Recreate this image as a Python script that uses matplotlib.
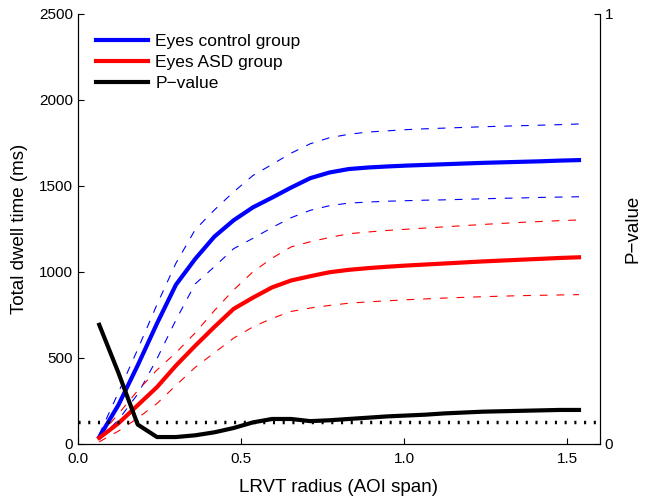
import matplotlib
matplotlib.use("Agg")
import matplotlib.pyplot as plt

plt.rcParams['font.family'] = ['Liberation Sans', 'DejaVu Sans']

radius = [0.065, 0.124, 0.183, 0.242, 0.300, 0.359, 0.418, 0.477, 0.536, 0.595,
          0.653, 0.712, 0.771, 0.830, 0.889, 0.948, 1.006, 1.065, 1.124, 1.183,
          1.242, 1.300, 1.359, 1.418, 1.477, 1.536]

control_mean = [40, 227, 457, 700, 925, 1075, 1205, 1300, 1375, 1432,
                1490, 1545, 1578, 1598, 1607, 1613, 1618, 1622, 1626, 1630,
                1634, 1637, 1640, 1643, 1647, 1650]
control_upper = [55, 300, 550, 810, 1050, 1245, 1360, 1465, 1560, 1625,
                 1690, 1745, 1780, 1800, 1813, 1820, 1827, 1832, 1836, 1840,
                 1844, 1847, 1850, 1853, 1856, 1860]
control_lower = [30, 140, 290, 495, 720, 930, 1030, 1135, 1195, 1258,
                 1315, 1358, 1385, 1400, 1406, 1411, 1414, 1417, 1419, 1422,
                 1425, 1428, 1430, 1433, 1435, 1437]

asd_mean = [35, 120, 225, 330, 455, 570, 680, 785, 850, 910,
            950, 975, 998, 1012, 1022, 1030, 1037, 1043, 1049, 1055,
            1061, 1066, 1071, 1076, 1081, 1085]
asd_upper = [45, 175, 310, 430, 530, 645, 775, 895, 1000, 1080,
             1145, 1175, 1200, 1222, 1232, 1241, 1248, 1255, 1262, 1269,
             1276, 1282, 1288, 1293, 1298, 1302]
asd_lower = [12, 75, 150, 235, 340, 445, 530, 615, 680, 730,
             770, 790, 805, 818, 826, 832, 838, 843, 848, 852,
             856, 859, 862, 864, 866, 868]

p_value = [0.277, 0.165, 0.045, 0.016, 0.016, 0.020, 0.027, 0.037, 0.050, 0.058,
           0.058, 0.053, 0.055, 0.058, 0.061, 0.064, 0.066, 0.068, 0.071, 0.073,
           0.075, 0.076, 0.077, 0.078, 0.079, 0.079]
alpha_level = 0.05

fig = plt.figure(figsize=(6.45, 4.96), dpi=100)
ax = fig.add_axes([0.121, 0.105, 0.809, 0.867])

dash = (0, (7, 8))
ax.plot(radius, control_upper, color='blue', lw=0.8, linestyle=dash)
ax.plot(radius, control_lower, color='blue', lw=0.8, linestyle=dash)
ax.plot(radius, asd_upper, color='red', lw=0.8, linestyle=dash)
ax.plot(radius, asd_lower, color='red', lw=0.8, linestyle=dash)
l1, = ax.plot(radius, control_mean, color='blue', lw=3, label='Eyes control group')
l2, = ax.plot(radius, asd_mean, color='red', lw=3, label='Eyes ASD group')

ax.set_xlim(0, 1.6)
ax.set_ylim(0, 2500)
ax.set_xticks([0.0, 0.5, 1.0, 1.5])
ax.set_xticklabels(['0.0', '0.5', '1.0', '1.5'])
ax.set_yticks([0, 500, 1000, 1500, 2000, 2500])
ax.tick_params(direction='in', length=4, labelsize=11, width=0.8)
ax.tick_params(axis='x', pad=6)
ax.spines['top'].set_visible(False)
ax.set_xlabel('LRVT radius (AOI span)', fontsize=13.5, labelpad=9)
ax.set_ylabel('Total dwell time (ms)', fontsize=13.5, labelpad=8)

ax2 = ax.twinx()
l3, = ax2.plot(radius, p_value, color='black', lw=3, label='P\u2212value')
ax2.plot([0, 1.6], [alpha_level, alpha_level], color='black', lw=2.5,
         linestyle=(0, (0.6, 2.2)))
ax2.set_ylim(0, 1)
ax2.set_xlim(0, 1.6)
ax2.set_yticks([0, 1])
ax2.tick_params(direction='in', length=4, labelsize=11, width=0.8)
ax2.spines['top'].set_visible(False)
ax2.set_ylabel('P\u2212value', fontsize=13.5, labelpad=8)

ax2.legend(handles=[l1, l2, l3], loc='upper left', frameon=False, fontsize=12.5,
           handlelength=3.0, handletextpad=0.4, labelspacing=0.35,
           bbox_to_anchor=(0.015, 0.978), borderaxespad=0.2)

fig.savefig('out.png', dpi=100)
